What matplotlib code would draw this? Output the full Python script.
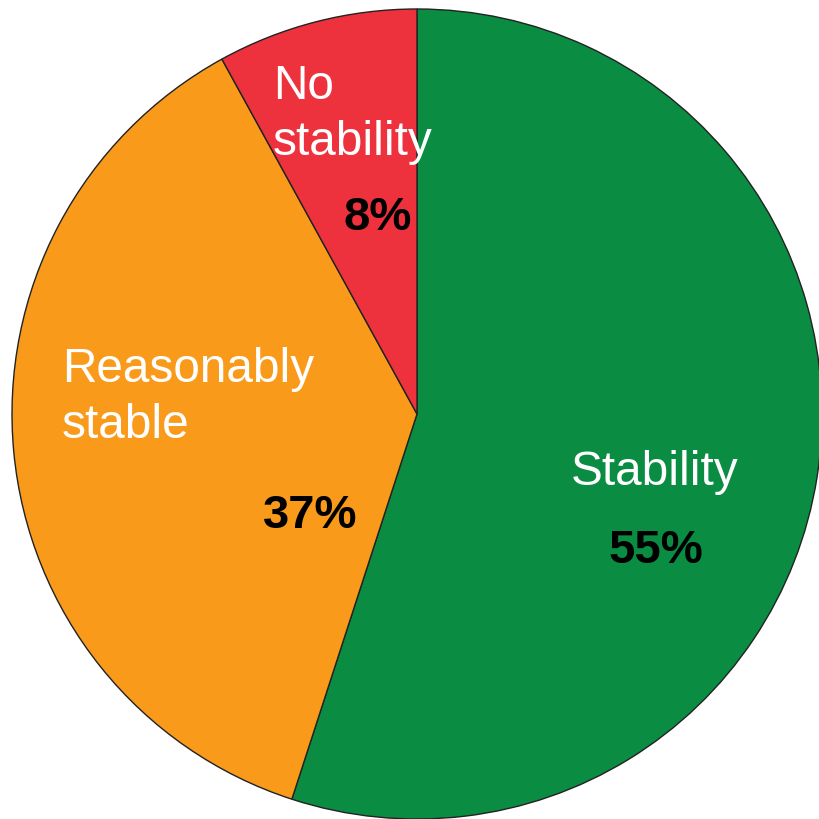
import matplotlib
matplotlib.use('Agg')
from matplotlib import pyplot as plt

# stability breakdown (percent)
labels = ['Stability', 'Reasonably\nstable', 'No\nstability']
shares = [55, 37, 8]
colors = ['#0a8c42', '#f99a1a', '#ee323d']

# label placement in pixel space (left edge, baseline of last line)
name_pos = [(571, 485), (62, 438), (273, 155)]
pct_pos = [(656, 563), (310, 528), (378, 230)]

W = H = 819
fig = plt.figure(figsize=(W / 100, H / 100), dpi=100)
ax = fig.add_axes([0, 0, 1, 1])

# pie drawn clockwise from 12 o'clock; y-axis is flipped so counterclock=True turns clockwise
wedges, _ = ax.pie(shares, colors=colors, startangle=-90, counterclock=True,
                   center=(417, 414), radius=405, frame=True,
                   wedgeprops=dict(edgecolor='#222222', linewidth=1.0))
ax.set_xlim(0, W)
ax.set_ylim(H, 0)
ax.set_aspect('equal')
ax.axis('off')

for lab, (x, y) in zip(labels, name_pos):
    ax.text(x, y, lab, color='white', fontsize=34.4, family='Liberation Sans',
            ha='left', va='baseline', linespacing=1.32)

for val, (x, y) in zip(shares, pct_pos):
    ax.text(x, y, f'{val}%', color='black', fontsize=34, fontweight='bold',
            family='Liberation Sans', ha='center', va='baseline')

fig.savefig('out.png', dpi=100)
